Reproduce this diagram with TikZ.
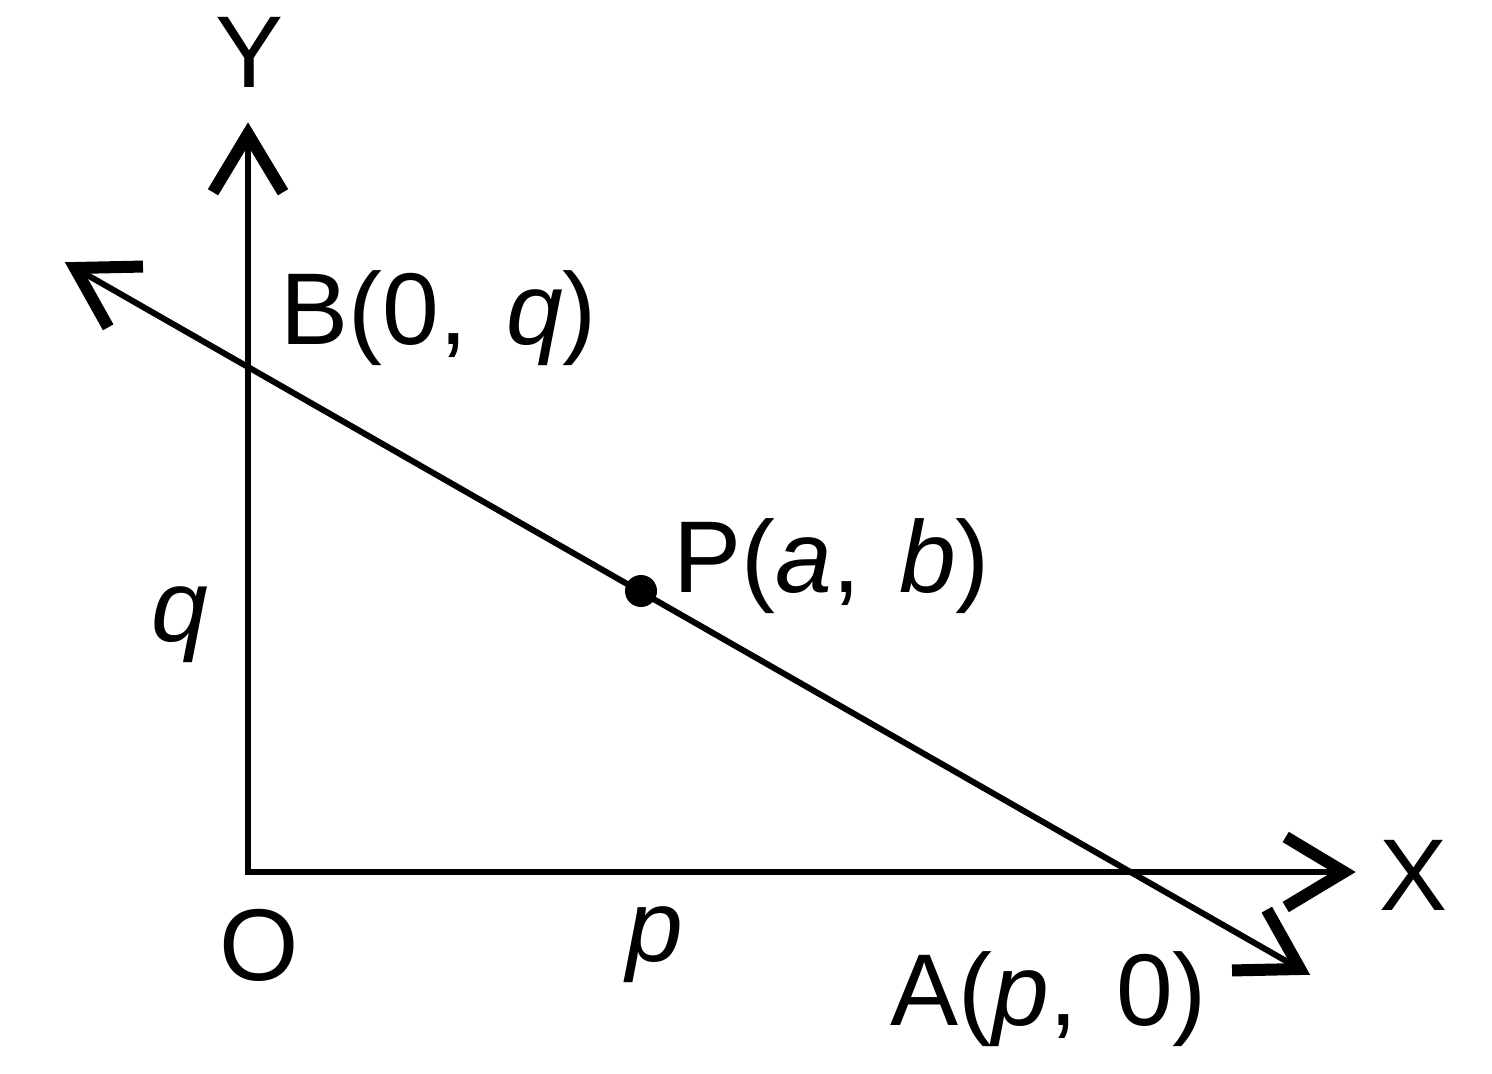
\documentclass[tikz,border=0pt]{standalone}
\usepackage{fontspec}
\setmainfont{Liberation Sans}
\usetikzlibrary{calc}
\newcommand{\gapsp}{\hspace{0.38em}}
\begin{document}
\begin{tikzpicture}[x=0.5pt,y=-0.5pt,
  axisline/.style={line width=3pt,line join=miter},
  armline/.style={line width=6pt,line join=miter,line cap=butt},
  lbl/.style={inner sep=0pt,font=\fontsize{51}{60}\selectfont}]
\useasboundingbox (0,0) rectangle (1492,1074);
% key points
\coordinate (O) at (248,872);
\coordinate (Yt) at (248,134);
\coordinate (Xt) at (1344,872);
\coordinate (L1) at (75,268);
\coordinate (L2) at (1300,969);
\coordinate (P) at (641,591);
% axes
\draw[axisline] (Yt) -- (O) -- (Xt);
% slanted line
\draw[axisline] (L1) -- (L2);
% arrow heads
\draw[armline] ($(Yt)!34pt!31:(O)$) -- (Yt) -- ($(Yt)!34pt!-31:(O)$);
\draw[armline] ($(Xt)!34pt!31:(O)$) -- (Xt) -- ($(Xt)!34pt!-31:(O)$);
\draw[armline] ($(L1)!34pt!31:(L2)$) -- (L1) -- ($(L1)!34pt!-31:(L2)$);
\draw[armline] ($(L2)!34pt!31:(L1)$) -- (L2) -- ($(L2)!34pt!-31:(L1)$);
% point P
\fill (P) circle[radius=16];
% labels
\node[lbl,anchor=base] (ylab) at (250,88) {Y};
\node[lbl,anchor=base] (xlab) at (1413,910) {X};
\node[lbl,anchor=base] (olab) at (259,980) {O};
\node[lbl,anchor=base] (plab) at (655,961) {\textit{p}};
\node[lbl,anchor=base] (qlab) at (180,641) {\textit{q}};
\node[lbl,anchor=base west] (blab) at (280,345) {B(0,\gapsp\textit{q})};
\node[lbl,anchor=base west] (Plab) at (673,592) {P(\textit{a},\gapsp\textit{b})};
\node[lbl,anchor=base west] (alab) at (890,1025) {A(\textit{p},\gapsp 0)};
\end{tikzpicture}
\end{document}
